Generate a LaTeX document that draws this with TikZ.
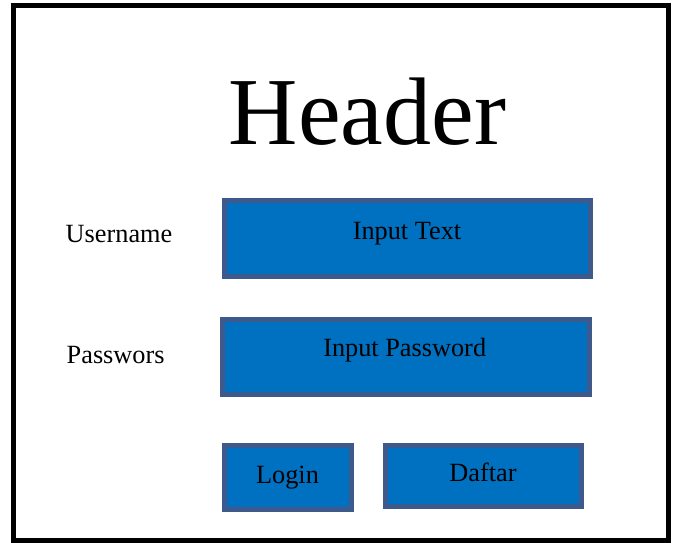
\documentclass[tikz,border=0pt]{standalone}
\usepackage{fontspec}
\setmainfont{Liberation Serif}
\definecolor{fieldfill}{RGB}{0,112,192}
\definecolor{fieldedge}{RGB}{62,90,140}
\begin{document}
\begin{tikzpicture}[x=1pt,y=-1pt,
  field/.style={rectangle,draw=fieldedge,fill=fieldfill,line width=5pt,inner sep=0pt},
  label/.style={anchor=base,inner sep=0pt,font=\fontsize{26.3}{30}\selectfont}]
\useasboundingbox (0,0) rectangle (676,542);
% outer frame
\draw[line width=5pt] (13.5,5.5) rectangle (668,540);
% title
\node[anchor=base,inner sep=0pt,font=\fontsize{96}{100}\selectfont] (header) at (367.5,144) {Header};
% field captions
\node[label,anchor=base west] (userlbl) at (65.5,242.3) {Username};
\node[label,anchor=base west] (passlbl) at (66.5,363.3) {Passwors};
% input fields and buttons
\node[field,minimum width=366,minimum height=76] (inputtext) at (407.5,238.5) {};
\node[field,minimum width=366.7,minimum height=75.6] (inputpass) at (405.8,357) {};
\node[field,minimum width=127,minimum height=64.3] (login) at (288,477.3) {};
\node[field,minimum width=196.6,minimum height=61] (daftar) at (483.5,475.7) {};
% texts on the fields
\node[label] (inputtexttxt) at (407,239) {Input Text};
\node[label] (inputpasstxt) at (404.7,356) {Input Password};
\node[label] (logintxt) at (287.5,483.3) {Login};
\node[label] (daftartxt) at (483,481.7) {Daftar};
\end{tikzpicture}
\end{document}
